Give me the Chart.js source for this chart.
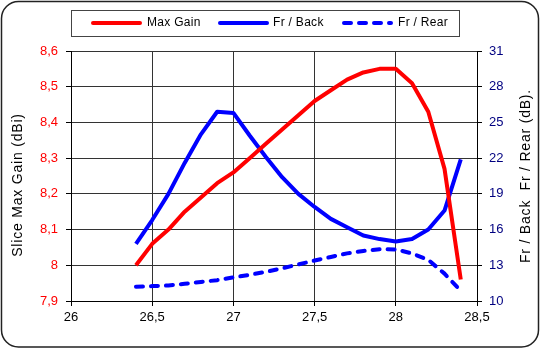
<!DOCTYPE html>
<html>
<head>
<meta charset="utf-8">
<script src="https://cdn.jsdelivr.net/npm/chart.js@4.4.1/dist/chart.umd.min.js"></script>
<style>
  body { margin: 0; background: #fff; }
  #wrap { width: 541px; height: 350px; }
</style>
</head>
<body>
<div id="wrap"><canvas id="myChart" width="541" height="350"></canvas></div>
<script>
// frequency (GHz)
var freqs = [26.4, 26.5, 26.6, 26.7, 26.8, 26.9, 27.0, 27.1, 27.2, 27.3, 27.4,
             27.5, 27.6, 27.7, 27.8, 27.9, 28.0, 28.1, 28.2, 28.3, 28.4];
// slice max gain (dBi), left axis
var maxGain = [8.00, 8.06, 8.10, 8.15, 8.19, 8.23, 8.26, 8.30, 8.34, 8.38, 8.42,
               8.46, 8.49, 8.52, 8.54, 8.55, 8.55, 8.51, 8.43, 8.27, 7.96];
// front/back and front/rear (dB), right axis
var frBack = [14.8, 16.8, 19.0, 21.6, 24.0, 25.9, 25.8, 23.9, 22.1, 20.4, 19.0,
              17.9, 16.9, 16.2, 15.5, 15.2, 15.0, 15.2, 16.0, 17.6, 21.9];
var frRear = [11.2, 11.25, 11.3, 11.45, 11.6, 11.75, 11.98, 12.2, 12.45, 12.75, 13.07,
              13.4, 13.7, 14.0, 14.2, 14.35, 14.33, 14.0, 13.45, 12.3, 10.85];
var seriesNames = ["Max Gain", "Fr / Back", "Fr / Rear"];
var leftTitle = "Slice Max Gain (dBi)";
var rightTitle = "Fr / Back  Fr / Rear (dB).";

function pts(ys) {
    return freqs.map(function(x, i){ return { x: x, y: ys[i] }; });
}
function comma(v) {
    return (Math.round(v * 10) / 10).toString().replace('.', ',');
}

/* Frame, legend and axis titles ------------------------------------ */
var decor = {
    id: 'decor',
    beforeDraw: function(chart) {
        var ctx = chart.ctx;
        ctx.save();
        ctx.fillStyle = '#fff';
        ctx.fillRect(0, 0, chart.width, chart.height);
        ctx.restore();
    },
    afterDraw: function(chart) {
        var ctx = chart.ctx;
        ctx.save();
        // outer rounded frame
        ctx.strokeStyle = '#222';
        ctx.lineWidth = 1.5;
        ctx.beginPath();
        ctx.roundRect(1.5, 1.5, 537, 345.5, 17);
        ctx.stroke();

        // legend box
        ctx.lineWidth = 1;
        ctx.strokeStyle = '#444';
        ctx.strokeRect(71.5, 10.5, 388, 26);

        var items = [
            { x: 91, tx: 147, ds: chart.data.datasets[0] },
            { x: 218, tx: 273, ds: chart.data.datasets[1] },
            { x: 342, tx: 398, ds: chart.data.datasets[2] }
        ];
        ctx.font = '12px "Liberation Sans", Arial, sans-serif';
        ctx.letterSpacing = '0.3px';
        ctx.textBaseline = 'middle';
        items.forEach(function(it){
            ctx.save();
            ctx.strokeStyle = it.ds.borderColor;
            ctx.lineWidth = 4;
            ctx.lineCap = 'round';
            ctx.setLineDash(it.ds.borderDash || []);
            ctx.beginPath();
            ctx.moveTo(it.x + 2, 23);
            ctx.lineTo(it.x + 49, 23);
            ctx.stroke();
            ctx.restore();
            ctx.fillStyle = '#000';
            ctx.fillText(it.ds.label, it.tx, 23);
        });

        // axis titles, both reading bottom to top
        ctx.font = '14px "Liberation Sans", Arial, sans-serif';
        ctx.letterSpacing = '0.8px';
        ctx.fillStyle = '#000';
        ctx.textAlign = 'center';
        ctx.textBaseline = 'middle';
        ctx.save();
        ctx.translate(18, 185);
        ctx.rotate(-Math.PI / 2);
        ctx.fillText(leftTitle, 0, 0);
        ctx.restore();
        ctx.save();
        ctx.translate(526, 176);
        ctx.rotate(-Math.PI / 2);
        ctx.fillText(rightTitle, 0, 0);
        ctx.restore();
        ctx.restore();
    }
};

var gridColor = '#333';
var tickFont = { family: '"Liberation Sans", Arial, sans-serif', size: 13 };

var ctx = document.getElementById("myChart").getContext("2d");
var myChart = new Chart(ctx, {
    type: 'line',
    data: {
        datasets: [
            {
                label: seriesNames[0],
                data: pts(maxGain),
                yAxisID: 'yL',
                borderColor: 'rgb(255, 0, 0)',
                borderWidth: 4,
                borderJoinStyle: 'round',
                pointRadius: 0,
                tension: 0
            },
            {
                label: seriesNames[1],
                data: pts(frBack),
                yAxisID: 'yR',
                borderColor: 'rgb(0, 0, 255)',
                borderWidth: 4,
                borderJoinStyle: 'round',
                pointRadius: 0,
                tension: 0
            },
            {
                label: seriesNames[2],
                data: pts(frRear),
                yAxisID: 'yR',
                borderColor: 'rgb(0, 0, 255)',
                borderWidth: 4,
                borderDash: [7, 8],
                borderCapStyle: 'round',
                borderJoinStyle: 'round',
                pointRadius: 0,
                tension: 0
            }
        ]
    },
    options: {
        responsive: false,
        animation: false,
        devicePixelRatio: 1,
        layout: { padding: { top: 51, left: 0, right: 0, bottom: 0 } },
        plugins: {
            legend: { display: false },
            tooltip: { enabled: false }
        },
        scales: {
            x: {
                type: 'linear',
                min: 26, max: 28.5,
                ticks: { stepSize: 0.5, color: '#000', font: tickFont, padding: 4,
                         maxRotation: 0, callback: comma },
                grid: { color: gridColor, tickColor: '#000', tickLength: 5 },
                border: { color: '#000' },
                afterFit: function(s){ s.height = 49; }
            },
            yL: {
                type: 'linear',
                position: 'left',
                min: 7.9, max: 8.6,
                ticks: { stepSize: 0.1, color: 'rgb(255, 0, 0)', font: tickFont, padding: 8,
                         callback: comma },
                grid: { color: gridColor, tickColor: '#000', tickLength: 5 },
                border: { color: '#000' },
                afterFit: function(s){ s.width = 71; }
            },
            yR: {
                type: 'linear',
                position: 'right',
                min: 10, max: 31,
                ticks: { stepSize: 3, color: 'rgb(0, 0, 128)', font: tickFont, padding: 7 },
                grid: { drawOnChartArea: false, tickColor: '#000', tickLength: 5 },
                border: { color: '#000' },
                afterFit: function(s){ s.width = 64; }
            }
        }
    },
    plugins: [decor]
});
</script>
</body>
</html>
